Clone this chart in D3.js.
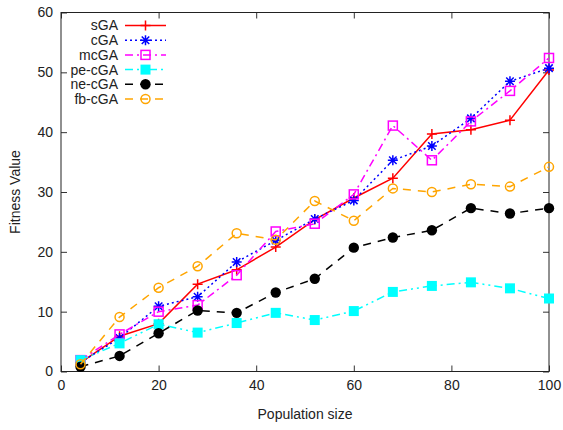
<!DOCTYPE html>
<html>
<head>
<meta charset="utf-8">
<script src="https://cdn.jsdelivr.net/npm/d3@7"></script>
<style>
  body { margin: 0; background: #fff; }
  text { font-family: "Liberation Sans", Arial, sans-serif; font-size: 14px; fill: #222; }
</style>
</head>
<body>
<div id="graph"></div>
<script>
var svgWidth = 563;
var svgHeight = 430;

// data
var popSize = [4, 12, 20, 28, 36, 44, 52, 60, 68, 76, 84, 92, 100];
var sGA   = [1.5, 5.9, 8.0, 14.6, 17.0, 20.8, 25.4, 29.0, 32.3, 39.7, 40.4, 42.0, 50.4];
var cGA   = [1.5, 5.6, 10.9, 12.5, 18.3, 21.9, 25.5, 28.6, 35.3, 37.7, 42.3, 48.5, 50.7];
var mcGA  = [1.9, 6.2, 10.0, 11.1, 16.1, 23.4, 24.7, 29.6, 41.1, 35.3, 41.8, 46.9, 52.4];
var peCGA = [1.9, 4.7, 7.9, 6.5, 8.1, 9.8, 8.6, 10.1, 13.3, 14.3, 14.9, 13.9, 12.2];
var neCGA = [0.8, 2.6, 6.4, 10.2, 9.8, 13.2, 15.5, 20.7, 22.4, 23.6, 27.3, 26.4, 27.3];
var fbCGA = [1.2, 9.1, 14.0, 17.6, 23.1, 22.0, 28.5, 25.2, 30.6, 30.0, 31.3, 30.9, 34.2];
var xTicks = [0, 20, 40, 60, 80, 100];
var yTicks = [0, 10, 20, 30, 40, 50, 60];

var series = [
  { name: "sGA",    values: sGA,   color: "#ff0000", dash: null,              marker: "plus" },
  { name: "cGA",    values: cGA,   color: "#0000ff", dash: "2,3",             marker: "star" },
  { name: "mcGA",   values: mcGA,  color: "#ff00ff", dash: "8,4,2,4",         marker: "square" },
  { name: "pe-cGA", values: peCGA, color: "#00ffff", dash: "8,4,2,4,2,4",     marker: "fsquare" },
  { name: "ne-cGA", values: neCGA, color: "#000000", dash: "8,7",             marker: "fcircle" },
  { name: "fb-cGA", values: fbCGA, color: "#ffa500", dash: "8,7",             marker: "circle" }
];

var margin = { top: 12.5, right: 14, bottom: 58.5, left: 61 };
var width = svgWidth - margin.left - margin.right;
var height = svgHeight - margin.top - margin.bottom;

var svg = d3.select("#graph").append("svg")
  .attr("width", svgWidth)
  .attr("height", svgHeight);

var chartGroup = svg.append("g")
  .attr("transform", `translate(${margin.left}, ${margin.top})`);

var x = d3.scaleLinear().domain([0, 100]).range([0, width]);
var y = d3.scaleLinear().domain([0, 60]).range([height, 0]);

// axes with inward ticks (mirrored on top/right like gnuplot)
var tickLen = 6;
var xAxis = d3.axisBottom(x).tickValues(xTicks).tickSizeInner(-tickLen).tickSizeOuter(0).tickPadding(9);
var yAxis = d3.axisLeft(y).tickValues(yTicks).tickSizeInner(-tickLen).tickSizeOuter(0).tickPadding(8);

chartGroup.append("g").attr("transform", `translate(0, ${height})`).call(xAxis);
chartGroup.append("g").call(yAxis);
chartGroup.append("g").call(d3.axisTop(x).tickValues(xTicks).tickSizeInner(-tickLen).tickSizeOuter(0).tickFormat(""));
chartGroup.append("g").attr("transform", `translate(${width}, 0)`)
  .call(d3.axisRight(y).tickValues(yTicks).tickSizeInner(-tickLen).tickSizeOuter(0).tickFormat(""));

chartGroup.selectAll(".domain").remove();
chartGroup.selectAll(".tick line").attr("stroke", "#333");
chartGroup.selectAll(".tick text").style("font-size", "14px").style("font-family", "Liberation Sans, Arial, sans-serif").attr("fill", "#222");

chartGroup.append("rect")
  .attr("width", width).attr("height", height)
  .attr("fill", "none").attr("stroke", "#222").attr("stroke-width", 1);

function drawMarker(g, type, color) {
  var s = 5;
  if (type == "plus") {
    g.append("path").attr("d", `M${-s},0H${s}M0,${-s}V${s}`).attr("stroke", color).attr("stroke-width", 1.5).attr("fill", "none");
  } else if (type == "star") {
    g.append("path").attr("d", `M${-s},0H${s}M0,${-s}V${s}M${-s*0.75},${-s*0.75}L${s*0.75},${s*0.75}M${-s*0.75},${s*0.75}L${s*0.75},${-s*0.75}`)
      .attr("stroke", color).attr("stroke-width", 1.5).attr("fill", "none");
  } else if (type == "square") {
    g.append("rect").attr("x", -4.5).attr("y", -4.5).attr("width", 9).attr("height", 9)
      .attr("fill", "none").attr("stroke", color).attr("stroke-width", 1.5);
  } else if (type == "fsquare") {
    g.append("rect").attr("x", -5).attr("y", -5).attr("width", 10).attr("height", 10).attr("fill", color);
  } else if (type == "fcircle") {
    g.append("circle").attr("r", 5.2).attr("fill", color);
  } else if (type == "circle") {
    g.append("circle").attr("r", 4.5).attr("fill", "none").attr("stroke", color).attr("stroke-width", 1.5);
  }
}

var line = d3.line()
  .x(d => x(d[0]))
  .y(d => y(d[1]));

series.forEach(s => {
  var pts = popSize.map((p, i) => [p, s.values[i]]);
  chartGroup.append("path")
    .datum(pts)
    .attr("d", line)
    .attr("fill", "none")
    .attr("stroke", s.color)
    .attr("stroke-width", 1.5)
    .attr("stroke-dasharray", s.dash);
  pts.forEach(p => {
    var g = chartGroup.append("g").attr("transform", `translate(${x(p[0])}, ${y(p[1])})`);
    drawMarker(g, s.marker, s.color);
  });
});

// legend
var legend = svg.append("g");
series.forEach((s, i) => {
  var ly = 25.5 + i * 14.7;
  legend.append("text")
    .attr("x", 118).attr("y", ly).attr("dy", "0.35em")
    .attr("text-anchor", "end")
    .text(s.name);
  legend.append("line")
    .attr("x1", 125).attr("x2", 166).attr("y1", ly).attr("y2", ly)
    .attr("stroke", s.color).attr("stroke-width", 1.5)
    .attr("stroke-dasharray", s.dash);
  var g = legend.append("g").attr("transform", `translate(145.5, ${ly})`);
  drawMarker(g, s.marker, s.color);
});

// axis titles
svg.append("text")
  .attr("text-anchor", "middle")
  .attr("transform", `translate(20, ${margin.top + height / 2}) rotate(-90)`)
  .text("Fitness Value");

svg.append("text")
  .attr("text-anchor", "middle")
  .attr("x", margin.left + width / 2)
  .attr("y", 419)
  .text("Population size");
</script>
</body>
</html>
